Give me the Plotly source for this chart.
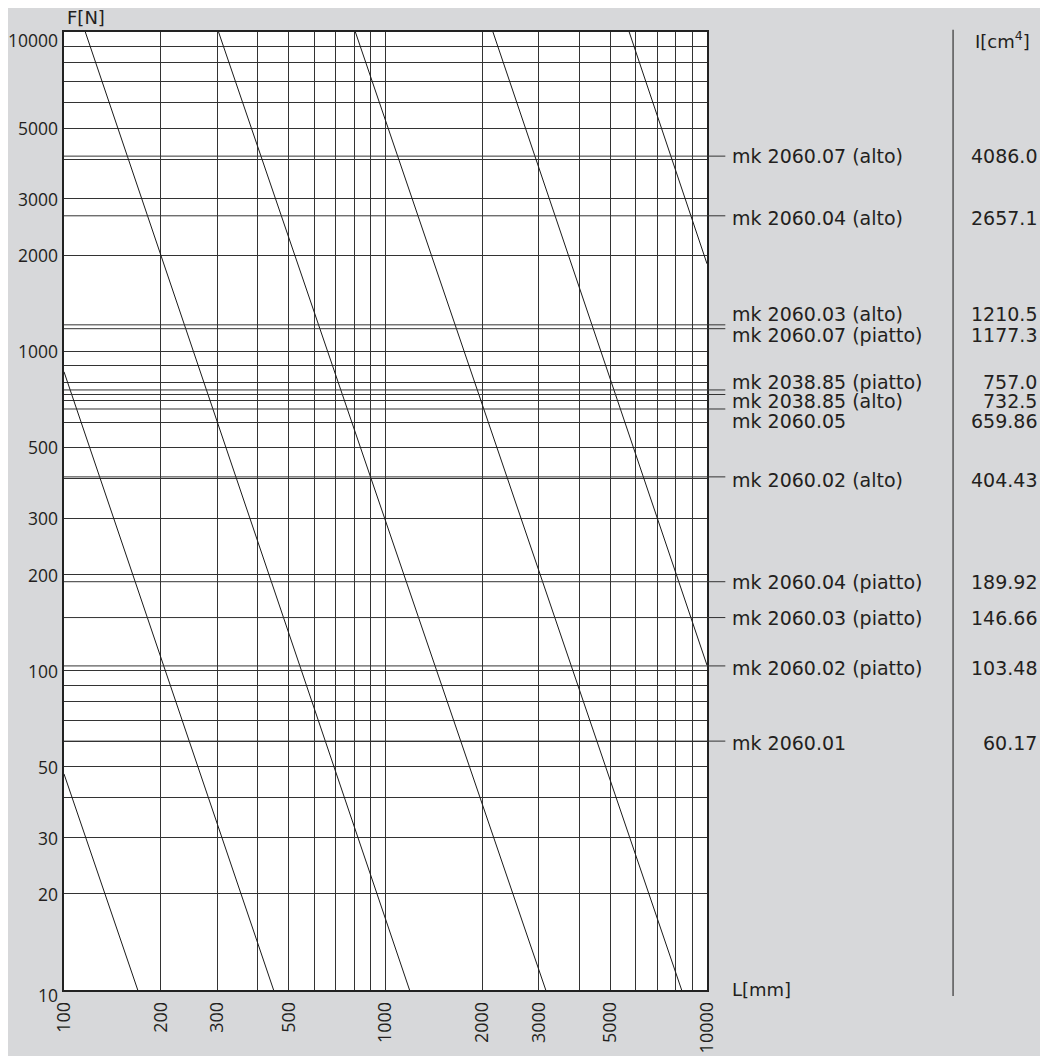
import numpy as np
import plotly.graph_objects as go

# ---------------- data ----------------
profiles = ["mk 2060.07 (alto)", "mk 2060.04 (alto)", "mk 2060.03 (alto)",
            "mk 2060.07 (piatto)", "mk 2038.85 (piatto)", "mk 2038.85 (alto)",
            "mk 2060.05", "mk 2060.02 (alto)", "mk 2060.04 (piatto)",
            "mk 2060.03 (piatto)", "mk 2060.02 (piatto)", "mk 2060.01"]
inertia = [4086.0, 2657.1, 1210.5, 1177.3, 757.0, 732.5, 659.86,
           404.43, 189.92, 146.66, 103.48, 60.17]
inertia_text = ["4086.0", "2657.1", "1210.5", "1177.3", "757.0", "732.5",
                "659.86", "404.43", "189.92", "146.66", "103.48", "60.17"]

# diagonal lines: (L start, F start) -> (L end, F end)
line_L_start = [100, 100, 116.5, 302.5, 806, 2159, 5728]
line_F_start = [47.5, 863, 10000, 10000, 10000, 10000, 10000]
line_L_end = [169.6, 448.7, 1188, 3151, 8340, 10000, 10000]
line_F_end = [10, 10, 10, 10, 10, 104, 1880]

x_ticks = [100, 200, 300, 500, 1000, 2000, 3000, 5000, 10000]
y_ticks = [10, 20, 30, 50, 100, 200, 300, 500, 1000, 2000, 3000, 5000, 10000]

# ---------------- styles ----------------
BG = "#d7d8da"
INK = "#231f20"
GRID = "#333333"
LBL_FONT = "DejaVu Sans"
TICK_FONT = "Open Sans"
label_yshift = [0, -2, 11, -6, 8, -6, -12, -3, 0, 0, -2, -2]
ytick_yshift = {10: -5, 10000: -8}

x_grid = [m * 10 ** e for e in (2, 3) for m in range(1, 10)] + [10000]
y_grid = [m * 10 ** e for e in (1, 2, 3) for m in range(1, 10)] + [10000]

fig = go.Figure()
for xs, ys, xe, ye in zip(line_L_start, line_F_start, line_L_end, line_F_end):
    fig.add_trace(go.Scatter(x=[xs, xe], y=[ys, ye], mode="lines",
                             line=dict(color="#1a1a1a", width=1),
                             showlegend=False, hoverinfo="skip"))

# plot area is 642.7 px wide, 957.7 px tall
LEAD_END = 1.0285
TEXT_X = 1.0363
VAL_X = 1.516
for name, I, txt, ys in zip(profiles, inertia, inertia_text, label_yshift):
    fig.add_shape(type="line", xref="paper", yref="y", x0=0, x1=LEAD_END,
                  y0=I, y1=I, line=dict(color=GRID, width=1))
    fig.add_annotation(xref="paper", yref="y", x=TEXT_X, y=np.log10(I),
                       text=name, showarrow=False, xanchor="left",
                       yanchor="middle", yshift=ys,
                       font=dict(family=LBL_FONT, size=19, color=INK))
    fig.add_annotation(xref="paper", yref="y", x=VAL_X, y=np.log10(I),
                       text=txt, showarrow=False, xanchor="right",
                       yanchor="middle", yshift=ys,
                       font=dict(family=LBL_FONT, size=19, color=INK))

# y tick labels (annotations so the end labels can sit inside the frame)
for v in y_ticks:
    fig.add_annotation(xref="paper", yref="y", x=0, y=np.log10(v),
                       text=str(v), showarrow=False, xanchor="right",
                       yanchor="middle", xshift=-4, yshift=ytick_yshift.get(v, 0),
                       font=dict(family=TICK_FONT, size=17.5, color=INK))

# separator line on the right
fig.add_shape(type="line", xref="paper", yref="paper", x0=1.3827, x1=1.3827,
              y0=1.0024, y1=-0.0063, line=dict(color="#555555", width=1.5))

# axis titles
fig.add_annotation(xref="paper", yref="paper", x=0.0016, y=1.015, text="F[N]",
                   showarrow=False, xanchor="left", yanchor="middle",
                   font=dict(family=LBL_FONT, size=18, color=INK))
fig.add_annotation(xref="paper", yref="paper", x=1.0363, y=0.001, text="L[mm]",
                   showarrow=False, xanchor="left", yanchor="middle",
                   font=dict(family=LBL_FONT, size=18, color=INK))
fig.add_annotation(xref="paper", yref="paper", x=1.4143, y=0.992,
                   text="I[cm<sup>4</sup>]",
                   showarrow=False, xanchor="left", yanchor="middle",
                   font=dict(family=LBL_FONT, size=18, color=INK))

axis_common = dict(type="log", showline=True, linecolor="#222222", linewidth=1.5,
                   mirror=True, ticks="", showgrid=True, gridcolor=GRID,
                   gridwidth=1, zeroline=False, automargin=False,
                   tickfont=dict(family=TICK_FONT, size=18, color=INK))
fig.update_xaxes(range=[2, 4], tickvals=x_ticks,
                 ticktext=[str(v) for v in x_ticks], tickangle=-90,
                 ticklabelstandoff=3,
                 minor=dict(tickvals=x_grid, showgrid=True, gridcolor=GRID,
                            gridwidth=1, ticks=""),
                 **axis_common)
fig.update_yaxes(range=[1, 4], tickvals=y_ticks, showticklabels=False,
                 minor=dict(tickvals=y_grid, showgrid=True, gridcolor=GRID,
                            gridwidth=1, ticks=""),
                 **axis_common)

# page body has an 8 px margin: figure is 1040x1048 placed at (8, 8)
fig.update_layout(width=1040, height=1048,
                  margin=dict(l=56, r=341, t=24, b=66, pad=0, autoexpand=False),
                  paper_bgcolor=BG, plot_bgcolor="white",
                  showlegend=False)

fig.write_html("out.html")
